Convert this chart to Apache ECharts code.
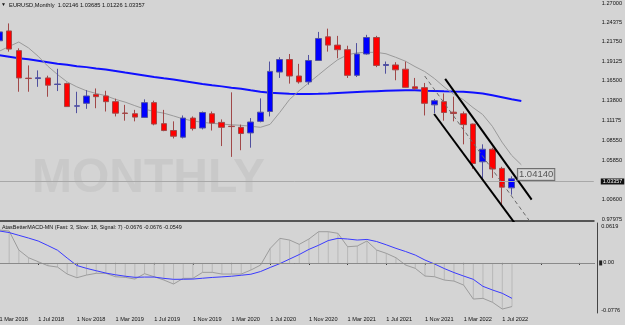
<!DOCTYPE html>
<html>
<head>
<meta charset="utf-8">
<script src="https://cdn.jsdelivr.net/npm/echarts@6/dist/echarts.min.js"></script>
<style>
html, body { margin: 0; padding: 0; background: #d4d4d4; overflow: hidden; }
#wrap { width: 625px; height: 325px; overflow: hidden; }
/* 左移 6px,讓第一根K線被裁切一半 */
#chart { width: 631px; height: 325px; margin-left: -6px; }
</style>
</head>
<body>
<div id="wrap"><div id="chart"></div></div>
<script>
// 月份 (每根K線一個月)
var months = ['Mar 2018', 'Apr 2018', 'May 2018', 'Jun 2018', 'Jul 2018', 'Aug 2018', 'Sep 2018', 'Oct 2018', 'Nov 2018', 'Dec 2018',
    'Jan 2019', 'Feb 2019', 'Mar 2019', 'Apr 2019', 'May 2019', 'Jun 2019', 'Jul 2019', 'Aug 2019', 'Sep 2019', 'Oct 2019', 'Nov 2019', 'Dec 2019',
    'Jan 2020', 'Feb 2020', 'Mar 2020', 'Apr 2020', 'May 2020', 'Jun 2020', 'Jul 2020', 'Aug 2020', 'Sep 2020', 'Oct 2020', 'Nov 2020', 'Dec 2020',
    'Jan 2021', 'Feb 2021', 'Mar 2021', 'Apr 2021', 'May 2021', 'Jun 2021', 'Jul 2021', 'Aug 2021', 'Sep 2021', 'Oct 2021', 'Nov 2021', 'Dec 2021',
    'Jan 2022', 'Feb 2022', 'Mar 2022', 'Apr 2022', 'May 2022', 'Jun 2022', 'Jul 2022', 'Aug 2022'];
// K線 [開, 收, 低, 高]
var candles = [
    [1.2186, 1.2305, 1.2155, 1.2446], [1.2318, 1.2075, 1.2041, 1.2419], [1.2054, 1.1688, 1.1503, 1.2085], [1.1685, 1.1680, 1.1503, 1.1856],
    [1.1680, 1.1690, 1.1569, 1.1789], [1.1688, 1.1591, 1.1436, 1.1718], [1.1600, 1.1606, 1.1512, 1.1811], [1.1612, 1.1304, 1.1300, 1.1625],
    [1.1310, 1.1314, 1.1216, 1.1503], [1.1348, 1.1446, 1.1274, 1.1525], [1.1467, 1.1437, 1.1282, 1.1547], [1.1446, 1.1370, 1.1238, 1.1516],
    [1.1370, 1.1216, 1.1172, 1.1410], [1.1218, 1.1212, 1.1115, 1.1327], [1.1208, 1.1163, 1.1106, 1.1260], [1.1159, 1.1357, 1.1155, 1.1401],
    [1.1357, 1.1070, 1.1053, 1.1383], [1.1075, 1.0983, 1.0974, 1.1260], [1.0983, 1.0907, 1.0877, 1.1106], [1.0894, 1.1150, 1.0877, 1.1185],
    [1.1150, 1.1009, 1.0983, 1.1172], [1.1017, 1.1225, 1.0998, 1.1238], [1.1208, 1.1083, 1.0983, 1.1238], [1.1092, 1.1026, 1.0775, 1.1132],
    [1.1040, 1.1036, 1.0630, 1.1495], [1.1026, 1.0943, 1.0719, 1.1062], [1.0951, 1.1097, 1.0753, 1.1150], [1.1106, 1.1229, 1.1093, 1.1414],
    [1.1238, 1.1776, 1.1172, 1.1908], [1.1767, 1.1935, 1.1688, 1.1965], [1.1935, 1.1714, 1.1612, 1.2009], [1.1714, 1.1635, 1.1612, 1.1877],
    [1.1635, 1.1922, 1.1599, 1.1996], [1.1922, 1.2217, 1.1920, 1.2305], [1.2239, 1.2128, 1.2041, 1.2349], [1.2128, 1.2067, 1.1952, 1.2252],
    [1.2067, 1.1723, 1.1688, 1.2120], [1.1723, 1.2009, 1.1701, 1.2155], [1.2009, 1.2230, 1.2000, 1.2266], [1.2230, 1.1856, 1.1833, 1.2252],
    [1.1856, 1.1868, 1.1745, 1.1908], [1.1862, 1.1797, 1.1657, 1.1899], [1.1805, 1.1562, 1.1560, 1.1908], [1.1569, 1.1546, 1.1525, 1.1688],
    [1.1558, 1.1348, 1.1185, 1.1621], [1.1327, 1.1383, 1.1215, 1.1406], [1.1370, 1.1225, 1.1115, 1.1480], [1.1229, 1.1211, 1.1106, 1.1437],
    [1.1208, 1.1062, 1.0798, 1.1238], [1.1070, 1.0541, 1.0470, 1.1076], [1.0564, 1.0732, 1.0335, 1.0798], [1.0732, 1.0467, 1.0348, 1.0753],
    [1.0475, 1.0224, 0.9969, 1.0497], [1.02146, 1.03357, 1.01226, 1.03685]
];
// 快速均線(灰)
var maFast = [1.2047, 1.2111, 1.2170, 1.2091, 1.1979, 1.1846, 1.1734, 1.1635, 1.1569, 1.1516,
    1.1480, 1.1450, 1.1401, 1.1364, 1.1317, 1.1271, 1.1238, 1.1216, 1.1179, 1.1139,
    1.1112, 1.1093, 1.1079, 1.1070, 1.1060, 1.1053, 1.1040, 1.1026, 1.1066, 1.1225,
    1.1397, 1.1516, 1.1622, 1.1727, 1.1833, 1.1932, 1.1998, 1.2025, 1.2031, 1.2031,
    1.2012, 1.1965, 1.1913, 1.1840, 1.1774, 1.1681, 1.1569, 1.1469, 1.1397, 1.1291,
    1.1198, 1.1040, 1.0828, 1.0650, 1.0524];
// 慢速均線(藍)
var maSlow = [1.1992, 1.1972, 1.1952, 1.1939, 1.1919, 1.1899, 1.1879, 1.1866, 1.1846, 1.1833,
    1.1816, 1.1800, 1.1780, 1.1760, 1.1741, 1.1721, 1.1701, 1.1684, 1.1668, 1.1648,
    1.1628, 1.1608, 1.1591, 1.1575, 1.1558, 1.1542, 1.1522, 1.1503, 1.1489, 1.1483,
    1.1476, 1.1473, 1.1472, 1.1476, 1.1481, 1.1487, 1.1493, 1.1499, 1.1505, 1.1511,
    1.1516, 1.1521, 1.1524, 1.1522, 1.1516, 1.1512, 1.1508, 1.1505, 1.1503, 1.1492,
    1.1480, 1.1456, 1.1430, 1.1403, 1.1380];
// MACD 主線 / 訊號線
var macdMain = [0.0510, 0.0495, 0.0200, 0.0081, 0.0019, -0.0043, -0.0064, -0.0172, -0.0229, -0.0188,
    -0.0161, -0.0161, -0.0214, -0.0223, -0.0250, -0.0167, -0.0214, -0.0265, -0.0327, -0.0239,
    -0.0239, -0.0146, -0.0146, -0.0172, -0.0172, -0.0172, -0.0110, -0.0033, 0.0226, 0.0381,
    0.0355, 0.0288, 0.0371, 0.0484, 0.0484, 0.0459, 0.0251, 0.0262, 0.0340, 0.0200,
    0.0149, 0.0081, -0.0033, -0.0084, -0.0203, -0.0214, -0.0265, -0.0281, -0.0343, -0.0560,
    -0.0549, -0.0611, -0.0715, -0.0676];
var macdSignal = [0.0495, 0.0471, 0.0428, 0.0386, 0.0340, 0.0270, 0.0197, 0.0076, -0.0040, -0.0084,
    -0.0121, -0.0157, -0.0184, -0.0206, -0.0223, -0.0219, -0.0219, -0.0239, -0.0254, -0.0253,
    -0.0250, -0.0237, -0.0225, -0.0216, -0.0206, -0.0191, -0.0175, -0.0133, -0.0070, -0.0010,
    0.0060, 0.0130, 0.0210, 0.0274, 0.0347, 0.0381, 0.0371, 0.0355, 0.0364, 0.0332,
    0.0281, 0.0226, 0.0177, 0.0122, 0.0045, -0.0017, -0.0087, -0.0149, -0.0203, -0.0254,
    -0.0363, -0.0420, -0.0471, -0.0549];
// 刻度
var priceTicks = [1.27, 1.24375, 1.2175, 1.19125, 1.165, 1.138, 1.11175, 1.0855, 1.0585, 1.006, 0.97975];
var macdTicks = [-0.0776, 0.0619];
var lastClose = 1.03357;
// 通道線 [序號, 價格]
var upperLine = [[46.12, 1.1675], [55.07, 1.0057]];
var lowerLine = [[44.98, 1.1205], [54.0, 0.9622]];
var midLine = [[44.0, 1.1714], [55.5, 0.9655]];
var priceNote = [53.65, 1.0394, '1.04140'];

// ======================================
var FONT = 'Liberation Sans';
var SHIFT = 6; // 圖表容器左移量
var SLOTS = 62;
var priceMin = 0.97702, priceMax = 1.26927;
var cats = months.slice();
while (cats.length < SLOTS) cats.push('');

var chart = echarts.init(document.getElementById('chart'));

var option = {
    backgroundColor: '#d4d4d4',
    animation: false,
    title: [{
        text: '{t|▼}  EURUSD,Monthly  1.02146 1.03685 1.01226 1.03357',
        left: 1 + SHIFT, top: 2, padding: 0,
        textStyle: { fontSize: 5.7, fontWeight: 'normal', color: '#111', fontFamily: FONT,
            rich: { t: { fontSize: 5, color: '#111' } } }
    }, {
        text: 'AtasBetterMACD-MN (Fast: 3, Slow: 18, Signal: 7) -0.0676 -0.0676 -0.0549',
        left: 2 + SHIFT, top: 225, padding: 0,
        textStyle: { fontSize: 5.4, fontWeight: 'normal', color: '#111', fontFamily: FONT }
    }],
    graphic: [{
        type: 'text', x: 32 + SHIFT, y: 179, z: 0, silent: true,
        style: { text: 'MONTHLY', font: 'bold 48px "Liberation Sans"', fill: '#c9c9c9', verticalAlign: 'middle' }
    }],
    grid: [
        { left: SHIFT - 5.335, width: 599.5, top: 0, height: 221 },
        { left: SHIFT - 5.335, width: 599.5, top: 223, height: 90 }
    ],
    xAxis: [
        { type: 'category', gridIndex: 0, data: cats, boundaryGap: true,
          axisLine: { show: true, lineStyle: { color: '#555', width: 2 } },
          axisTick: { show: false }, axisLabel: { show: false }, splitLine: { show: false } },
        { type: 'category', gridIndex: 1, data: cats, boundaryGap: true,
          axisLine: { show: true, lineStyle: { color: '#444', width: 1 } },
          axisTick: { show: true, interval: 3, alignWithLabel: true, length: 2, lineStyle: { color: '#333' } },
          axisLabel: { interval: 3, align: 'left', margin: 3, fontSize: 5.6, color: '#111', fontFamily: FONT,
              formatter: function (v) { return v ? '1 ' + v : ''; } },
          splitLine: { show: false } },
        { type: 'value', gridIndex: 0, min: -0.5, max: SLOTS - 0.5, show: false }
    ],
    yAxis: [
        { type: 'value', gridIndex: 0, position: 'right', offset: 3, min: priceMin, max: priceMax, scale: true,
          axisLine: { show: true, lineStyle: { color: '#444' } },
          axisTick: { show: false },
          axisLabel: { customValues: priceTicks.map(function (v) { return Math.min(v, priceMax); }),
              margin: 5, fontSize: 5.6, color: '#111', fontFamily: FONT,
              formatter: function (v) { return v > 1.26 ? '1.27000' : v.toFixed(5); } },
          splitLine: { show: false } },
        { type: 'value', gridIndex: 1, position: 'right', offset: 3, min: -0.0776, max: 0.0619,
          axisLine: { show: true, lineStyle: { color: '#444' } },
          axisTick: { show: false },
          axisLabel: { customValues: macdTicks, margin: 4, fontSize: 5.6, color: '#111', fontFamily: FONT,
              verticalAlignMinLabel: 'bottom', verticalAlignMaxLabel: 'top',
              formatter: function (v) { return v.toFixed(4); } },
          splitLine: { show: false } }
    ],
    series: [
        {
            name: 'maSlow', type: 'line', xAxisIndex: 0, yAxisIndex: 0, data: maSlow,
            symbol: 'none', lineStyle: { color: '#1010ff', width: 2 }, z: 3
        },
        {
            name: 'maFast', type: 'line', xAxisIndex: 0, yAxisIndex: 0, data: maFast,
            symbol: 'none', lineStyle: { color: '#9a9a9a', width: 1 }, z: 3
        },
        {
            name: 'EURUSD', type: 'candlestick', xAxisIndex: 0, yAxisIndex: 0, data: candles,
            barWidth: 6, z: 4,
            itemStyle: { color: '#0000ff', color0: '#ff0000', borderColor: '#50509e', borderColor0: '#a04848', borderWidth: 1 },
            markLine: {
                silent: true, symbol: 'none', animation: false,
                lineStyle: { color: '#a8a8a8', type: 'solid', width: 1 },
                label: { show: true, position: 'end', distance: 7, formatter: lastClose.toFixed(5),
                    backgroundColor: '#111', color: '#fff', fontSize: 5.4, fontFamily: FONT, padding: [1, 2, 0, 2] },
                data: [{ yAxis: lastClose }]
            }
        },
        {
            name: 'upper', type: 'line', xAxisIndex: 2, yAxisIndex: 0, data: upperLine,
            symbol: 'none', lineStyle: { color: '#000', width: 2 }, z: 5
        },
        {
            name: 'lower', type: 'line', xAxisIndex: 2, yAxisIndex: 0, data: lowerLine,
            symbol: 'none', lineStyle: { color: '#000', width: 2 }, z: 5
        },
        {
            name: 'mid', type: 'line', xAxisIndex: 2, yAxisIndex: 0, data: midLine,
            symbol: 'none', lineStyle: { color: '#6a6a6a', width: 1, type: [4, 3] }, z: 5
        },
        {
            name: 'note', type: 'scatter', xAxisIndex: 2, yAxisIndex: 0, data: [[priceNote[0], priceNote[1]]],
            symbolSize: 0, z: 6,
            label: { show: true, position: 'right', distance: 0, formatter: priceNote[2],
                fontSize: 9.5, color: '#333', fontFamily: FONT,
                backgroundColor: '#d8d8d8', borderColor: '#555', borderWidth: 1, padding: [1, 1, 0, 1] }
        },
        {
            name: 'hist', type: 'bar', xAxisIndex: 1, yAxisIndex: 1, data: macdMain,
            barWidth: 1, itemStyle: { color: '#b8b8b8' },
            markLine: {
                silent: true, symbol: 'none', animation: false,
                lineStyle: { color: '#8a8a8a', type: 'solid', width: 1 },
                label: { show: true, position: 'end', distance: 5, formatter: '{b|}{t|0.00}',
                    rich: { b: { backgroundColor: '#222', width: 3, height: 5 },
                            t: { fontSize: 5.6, color: '#111', fontFamily: FONT, padding: [0, 0, 0, 1] } } },
                data: [{ yAxis: 0 }]
            }
        },
        {
            name: 'macd', type: 'line', xAxisIndex: 1, yAxisIndex: 1, data: macdMain,
            symbol: 'none', lineStyle: { color: '#9c9c9c', width: 1 }
        },
        {
            name: 'signal', type: 'line', xAxisIndex: 1, yAxisIndex: 1, data: macdSignal,
            symbol: 'none', lineStyle: { color: '#3a3aff', width: 1 }
        }
    ]
};
chart.setOption(option);
</script>
</body>
</html>
